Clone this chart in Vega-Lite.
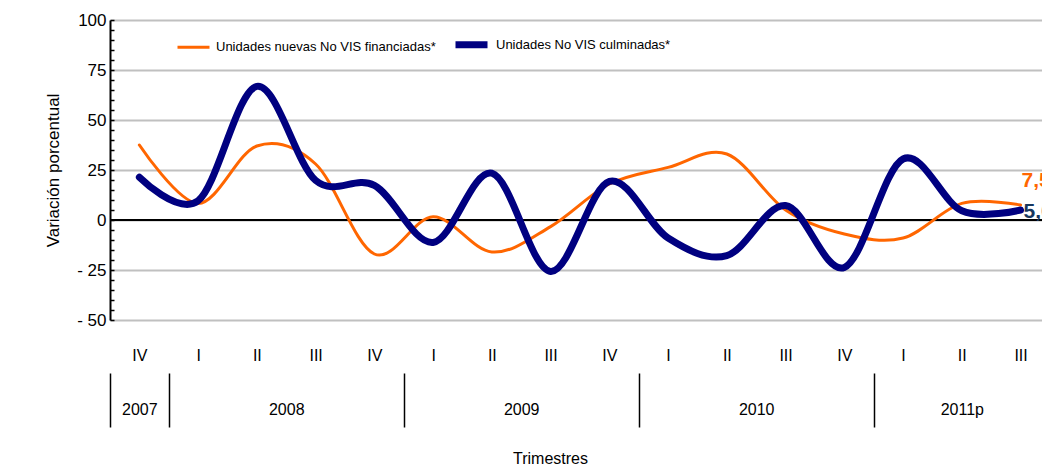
{
  "$schema": "https://vega.github.io/schema/vega-lite/v6.json",
  "width": 932,
  "height": 300,
  "autosize": "none",
  "padding": {"left": 110, "top": 20, "right": 0, "bottom": 146},
  "config": {
    "view": {"stroke": null},
    "locale": {"number": {"decimal": ",", "thousands": ".", "grouping": [3], "currency": ["$", ""]}},
    "font": "Liberation Sans"
  },
  "data": {
    "values": [
      {"i": 0, "s": "Unidades nuevas No VIS financiadas*", "v": 37.5},
      {"i": 1, "s": "Unidades nuevas No VIS financiadas*", "v": 8.3},
      {"i": 2, "s": "Unidades nuevas No VIS financiadas*", "v": 37},
      {"i": 3, "s": "Unidades nuevas No VIS financiadas*", "v": 28},
      {"i": 4, "s": "Unidades nuevas No VIS financiadas*", "v": -17},
      {"i": 5, "s": "Unidades nuevas No VIS financiadas*", "v": 1.6},
      {"i": 6, "s": "Unidades nuevas No VIS financiadas*", "v": -16},
      {"i": 7, "s": "Unidades nuevas No VIS financiadas*", "v": -3.3},
      {"i": 8, "s": "Unidades nuevas No VIS financiadas*", "v": 18},
      {"i": 9, "s": "Unidades nuevas No VIS financiadas*", "v": 26.3},
      {"i": 10, "s": "Unidades nuevas No VIS financiadas*", "v": 33},
      {"i": 11, "s": "Unidades nuevas No VIS financiadas*", "v": 5},
      {"i": 12, "s": "Unidades nuevas No VIS financiadas*", "v": -7},
      {"i": 13, "s": "Unidades nuevas No VIS financiadas*", "v": -9},
      {"i": 14, "s": "Unidades nuevas No VIS financiadas*", "v": 8.3},
      {"i": 15, "s": "Unidades nuevas No VIS financiadas*", "v": 7.5},
      {"i": 0, "s": "Unidades No VIS culminadas*", "v": 21.4},
      {"i": 1, "s": "Unidades No VIS culminadas*", "v": 9.6},
      {"i": 2, "s": "Unidades No VIS culminadas*", "v": 66.8},
      {"i": 3, "s": "Unidades No VIS culminadas*", "v": 19.8},
      {"i": 4, "s": "Unidades No VIS culminadas*", "v": 17.3},
      {"i": 5, "s": "Unidades No VIS culminadas*", "v": -11.2},
      {"i": 6, "s": "Unidades No VIS culminadas*", "v": 23.4},
      {"i": 7, "s": "Unidades No VIS culminadas*", "v": -25.7},
      {"i": 8, "s": "Unidades No VIS culminadas*", "v": 19.3},
      {"i": 9, "s": "Unidades No VIS culminadas*", "v": -9},
      {"i": 10, "s": "Unidades No VIS culminadas*", "v": -17.8},
      {"i": 11, "s": "Unidades No VIS culminadas*", "v": 7.2},
      {"i": 12, "s": "Unidades No VIS culminadas*", "v": -23.7},
      {"i": 13, "s": "Unidades No VIS culminadas*", "v": 30.5},
      {"i": 14, "s": "Unidades No VIS culminadas*", "v": 4.6},
      {"i": 15, "s": "Unidades No VIS culminadas*", "v": 5}
    ]
  },
  "resolve": {"axis": {"x": "independent", "y": "independent"}},
  "layer": [
    {
      "data": {"values": [{"z": 0}]},
      "mark": {"type": "rule", "color": "#000000", "strokeWidth": 2},
      "encoding": {"y": {"field": "z", "type": "quantitative", "axis": null}}
    },
    {
      "mark": {"type": "line", "interpolate": "cardinal", "strokeCap": "round"},
      "encoding": {
        "x": {
          "field": "i", "type": "quantitative",
          "scale": {"domain": [-0.5, 15.365], "nice": false, "zero": false},
          "axis": {
            "orient": "bottom",
            "values": [0,1,2,3,4,5,6,7,8,9,10,11,12,13,14,15],
            "labelExpr": "['IV','I','II','III'][datum.value % 4]",
            "domain": false, "ticks": false, "grid": false, "labelOverlap": false,
            "labelPadding": 27, "labelFontSize": 16, "labelColor": "#000000",
            "title": null
          }
        },
        "y": {
          "field": "v", "type": "quantitative",
          "scale": {"domain": [-50, 100], "nice": false},
          "axis": {
            "orient": "left",
            "values": [-50,-45,-40,-35,-30,-25,-20,-15,-10,-5,0,5,10,15,20,25,30,35,40,45,50,55,60,65,70,75,80,85,90,95,100],
            "labelExpr": "datum.value % 25 === 0 ? (datum.value < 0 ? '- ' + abs(datum.value) : '' + datum.value) : ''",
            "labelOverlap": false,
            "grid": true,
            "gridOpacity": {"condition": {"test": "datum.value % 25 === 0", "value": 1}, "value": 0},
            "gridColor": "#c0c0c0", "gridWidth": 2,
            "domainColor": "#000000", "domainWidth": 2,
            "tickColor": "#000000", "tickSize": -4, "tickWidth": 1.5,
            "labelFontSize": 17, "labelColor": "#000000", "labelPadding": 8,
            "title": "Variación porcentual", "titleFontSize": 17, "titleFontWeight": "normal",
            "titleColor": "#000000", "titlePadding": 14
          }
        },
        "color": {
          "field": "s", "type": "nominal",
          "scale": {"domain": ["Unidades nuevas No VIS financiadas*", "Unidades No VIS culminadas*"], "range": ["#ff6600", "#000080"]},
          "legend": {
            "title": null, "orient": "none", "legendX": 66, "legendY": 5, "direction": "horizontal",
            "symbolType": "stroke", "symbolSize": 1024, "labelFontSize": 13, "labelColor": "#000000",
            "labelOffset": 5, "columnPadding": 5, "labelLimit": 0
          }
        },
        "strokeWidth": {
          "field": "s", "type": "nominal",
          "scale": {"domain": ["Unidades nuevas No VIS financiadas*", "Unidades No VIS culminadas*"], "range": [3, 7]},
          "legend": {
            "title": null, "orient": "none", "legendX": 66, "legendY": 5, "direction": "horizontal",
            "symbolType": "stroke", "symbolSize": 1024, "labelFontSize": 13, "labelColor": "#000000",
            "labelOffset": 5, "columnPadding": 5, "labelLimit": 0
          }
        }
      }
    },
    {
      "transform": [{"filter": "datum.i === 15 && datum.v > 6"}],
      "mark": {"type": "text", "align": "left", "baseline": "middle", "dx": 1, "dy": -24, "fontSize": 21, "fontWeight": "bold", "color": "#ff6600"},
      "encoding": {
        "x": {
          "field": "i", "type": "quantitative",
          "axis": {
            "orient": "bottom",
            "values": [-0.5, 0, 0.5, 2.5, 4.5, 6.5, 8.5, 10.5, 12.5, 14],
            "labelExpr": "datum.value === 0 ? '2007' : datum.value === 2.5 ? '2008' : datum.value === 6.5 ? '2009' : datum.value === 10.5 ? '2010' : datum.value === 14 ? '2011p' : ''",
            "tickOpacity": {"condition": {"test": "indexof([-0.5, 0.5, 4.5, 8.5, 12.5], datum.value) >= 0", "value": 1}, "value": 0},
            "offset": 53, "domain": false, "grid": false, "labelOverlap": false,
            "tickColor": "#000000", "tickSize": 54, "tickWidth": 1.5,
            "labelPadding": -26, "labelFontSize": 16, "labelColor": "#000000",
            "title": "Trimestres", "titleFontSize": 16, "titleFontWeight": "normal", "titleColor": "#000000",
            "titleY": 77, "titleBaseline": "top", "titleX": 440, "titleAnchor": "middle"
          }
        },
        "y": {"field": "v", "type": "quantitative", "axis": null},
        "text": {"field": "v", "type": "quantitative", "format": ".1f"}
      }
    },
    {
      "transform": [{"filter": "datum.i === 15 && datum.v < 6"}],
      "mark": {"type": "text", "align": "left", "baseline": "middle", "dx": 3, "dy": 2, "fontSize": 21, "fontWeight": "bold", "color": "#17375e"},
      "encoding": {
        "x": {"field": "i", "type": "quantitative", "axis": null},
        "y": {"field": "v", "type": "quantitative", "axis": null},
        "text": {"field": "v", "type": "quantitative", "format": ".1f"}
      }
    }
  ]
}
